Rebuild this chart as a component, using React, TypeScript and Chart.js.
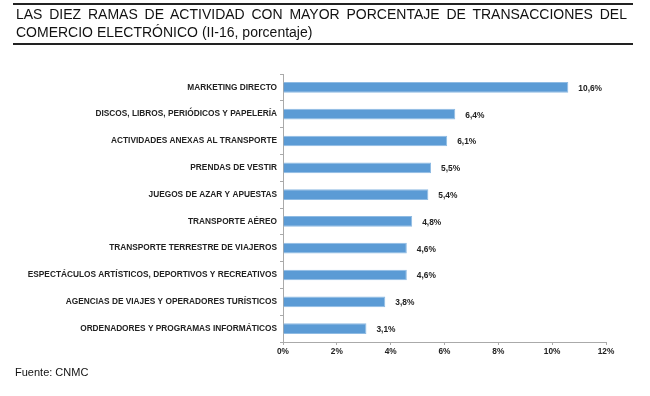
import React, { useEffect, useRef } from "react";
import { Chart, registerables } from "chart.js";

Chart.register(...registerables);

const categories = [
  "MARKETING DIRECTO",
  "DISCOS, LIBROS, PERIÓDICOS Y PAPELERÍA",
  "ACTIVIDADES ANEXAS AL TRANSPORTE",
  "PRENDAS DE VESTIR",
  "JUEGOS DE AZAR Y APUESTAS",
  "TRANSPORTE AÉREO",
  "TRANSPORTE TERRESTRE DE VIAJEROS",
  "ESPECTÁCULOS ARTÍSTICOS, DEPORTIVOS Y RECREATIVOS",
  "AGENCIAS DE VIAJES Y OPERADORES TURÍSTICOS",
  "ORDENADORES Y PROGRAMAS INFORMÁTICOS",
];
const values = [10.6, 6.4, 6.1, 5.5, 5.4, 4.8, 4.6, 4.6, 3.8, 3.1];
const xTicks = [0, 2, 4, 6, 8, 10, 12];

const titleLine1 = "LAS DIEZ RAMAS DE ACTIVIDAD CON MAYOR PORCENTAJE DE TRANSACCIONES DEL";
const titleLine2 = "COMERCIO ELECTRÓNICO (II-16, porcentaje)";
const source = "Fuente: CNMC";

const fmt = (v: number) => v.toFixed(1).replace(".", ",") + "%";
const FONT = "'Liberation Sans', Arial, sans-serif";

const valueLabels = {
  id: "valueLabels",
  afterDatasetsDraw(chart: any) {
    const ctx = chart.ctx;
    const meta = chart.getDatasetMeta(0);
    ctx.save();
    ctx.font = "bold 8.4px " + FONT;
    ctx.fillStyle = "#222";
    ctx.textAlign = "left";
    ctx.textBaseline = "middle";
    meta.data.forEach((el: any, i: number) => {
      ctx.fillText(fmt(values[i]), el.x + 10, el.y + 1);
    });
    ctx.restore();
  },
};

export default function App() {
  const ref = useRef<HTMLCanvasElement>(null);
  useEffect(() => {
    if (!ref.current) return;
    const chart = new Chart(ref.current, {
      type: "bar",
      data: {
        labels: categories,
        datasets: [
          {
            data: values,
            backgroundColor: "#5b9bd5",
            borderColor: "#8fbbe3",
            borderWidth: 1,
            barPercentage: 0.8,
            categoryPercentage: 0.5,
          },
        ],
      },
      options: {
        indexAxis: "y",
        animation: false,
        responsive: false,
        layout: { padding: { top: 74, right: 44, left: 0, bottom: 0 } },
        plugins: { legend: { display: false }, tooltip: { enabled: false } },
        scales: {
          x: {
            min: 0,
            max: 12,
            afterBuildTicks: (s: any) => {
              s.ticks = xTicks.map((v) => ({ value: v }));
            },
            afterFit: (s: any) => {
              s.height = 396 - 342;
            },
            ticks: {
              callback: (v: any) => v + "%",
              font: { family: FONT, size: 8.3, weight: "bold" },
              color: "#222",
              padding: 2,
              maxRotation: 0,
            },
            grid: { drawOnChartArea: false, tickLength: 3, color: "#aaa" },
            border: { color: "#aaa", width: 1 },
          },
          y: {
            afterFit: (s: any) => {
              s.width = 283;
            },
            ticks: {
              font: { family: FONT, size: 8.3, weight: "bold" },
              color: "#222",
              padding: 3,
            },
            grid: { drawOnChartArea: false, tickLength: 3, color: "#aaa", offset: true },
            border: { color: "#aaa", width: 1 },
          },
        },
      },
      plugins: [valueLabels],
    });
    return () => chart.destroy();
  }, []);

  return (
    <div
      style={{
        position: "fixed",
        left: 0,
        top: 0,
        width: 650,
        height: 396,
        background: "#fff",
        fontFamily: FONT,
      }}
    >
      <canvas ref={ref} width={650} height={396} style={{ position: "absolute", left: 0, top: 0 }} />
      <div
        style={{
          position: "absolute",
          left: 13,
          top: 3,
          width: 620,
          height: 42,
          borderTop: "2px solid #222",
          borderBottom: "2px solid #222",
          boxSizing: "border-box",
        }}
      >
        <div
          style={{
            fontSize: 14,
            lineHeight: "18px",
            paddingTop: 0,
            paddingLeft: 3,
            paddingRight: 6,
            color: "#111",
          }}
        >
          <div style={{ textAlign: "justify", textAlignLast: "justify" }}>{titleLine1}</div>
          <div style={{ textAlign: "left" }}>{titleLine2}</div>
        </div>
      </div>
      <div style={{ position: "absolute", left: 15, top: 366, fontSize: 11, color: "#111" }}>{source}</div>
    </div>
  );
}
